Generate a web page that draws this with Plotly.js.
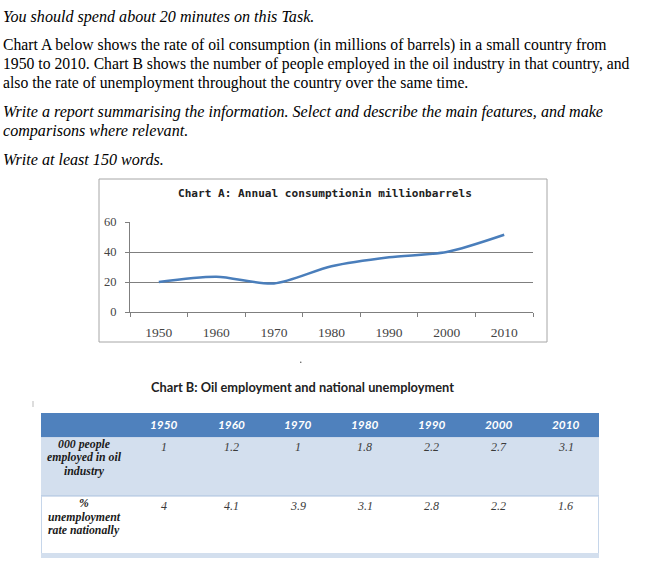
<!DOCTYPE html>
<html>
<head>
<meta charset="utf-8">
<script src="https://cdn.plot.ly/plotly-3.0.1.min.js"></script>
<style>html,body{margin:0;padding:0;background:#fff;}#chart{width:648px;height:574px;}</style>
</head>
<body>
<div id="chart"></div>
<script>
// ---- data ----
const years = ['1950', '1960', '1970', '1980', '1990', '2000', '2010'];
const consumption = [20, 23.5, 19, 30.5, 36.5, 40, 51.5];
const oilEmployed = ['1', '1.2', '1', '1.8', '2.2', '2.7', '3.1'];
const unemploymentRate = ['4', '4.1', '3.9', '3.1', '2.8', '2.2', '1.6'];
const rowLabels = ['000 people<br>employed in oil<br>industry', '%<br>unemployment<br>rate nationally'];
const chartATitle = 'Chart A: Annual consumptionin millionbarrels';
const chartBTitle = 'Chart B: Oil employment and national unemployment';
const taskLines = [
  'You should spend about 20 minutes on this Task.',
  'Chart A below shows the rate of oil consumption (in millions of barrels) in a small country from',
  '1950 to 2010. Chart B shows the number of people employed in the oil industry in that country, and',
  'also the rate of unemployment throughout the country over the same time.',
  'Write a report summarising the information. Select and describe the main features, and make',
  'comparisons where relevant.',
  'Write at least 150 words.'
];
const taskItalic = [true, false, false, false, true, true, true];

// ---- geometry / style ----
const W = 648, H = 574;
const px = x => x / W;
const py = y => 1 - y / H;
const taskLineY = [17, 45, 64, 83, 112, 131, 160];

const headerBlue = '#4f81bd';
const rowBlue = '#d3dfee';
const gridGrey = '#7f7f7f';

// table geometry
const tLeft = 41, tRight = 599, labelW = 90;
const yearW = (tRight - tLeft - labelW) / years.length;
const headTop = 413, headBot = 437;
const rowTops = [437, 496];
const rowBot = 553, stripBot = 558;
const tableRows = [oilEmployed, unemploymentRate];

const lineTrace = {
  type: 'scatter', mode: 'lines',
  x: years, y: consumption,
  xaxis: 'x', yaxis: 'y',
  line: {color: '#4a7ebb', width: 2.5, shape: 'spline', smoothing: 0.8},
  hoverinfo: 'x+y', showlegend: false
};

const annotations = [];
taskLines.forEach((t, i) => annotations.push({
  xref: 'paper', yref: 'paper', x: px(1), y: py(taskLineY[i]),
  xanchor: 'left', yanchor: 'middle', showarrow: false,
  text: taskItalic[i] ? '<i>' + t + '</i>' : t,
  font: {family: 'Liberation Serif, serif', size: taskItalic[i] ? 16.1 : 15.7, color: '#000000'}
}));
annotations.push({
  xref: 'paper', yref: 'paper', x: px(325), y: py(193), xanchor: 'center', yanchor: 'middle',
  showarrow: false, text: '<b>' + chartATitle + '</b>',
  font: {family: 'DejaVu Sans Mono, monospace', size: 11.1, color: '#222222'}
});
annotations.push({
  xref: 'paper', yref: 'paper', x: px(302), y: py(387), xanchor: 'center', yanchor: 'middle',
  showarrow: false, text: '<b>' + chartBTitle + '</b>',
  font: {family: 'Lato, Liberation Sans, sans-serif', size: 12.8, color: '#222222'}
});

const shapes = [
  // chart A frame
  {type: 'rect', xref: 'paper', yref: 'paper', x0: px(99), x1: px(547), y0: py(342), y1: py(179),
   line: {color: '#a6a6a6', width: 1}, fillcolor: 'rgba(0,0,0,0)', layer: 'below'},
  // small dot between charts
  {type: 'circle', xref: 'paper', yref: 'paper', x0: px(300), x1: px(301.5), y0: py(363), y1: py(361.5),
   line: {width: 0}, fillcolor: '#555555', layer: 'above'},
  // tiny mark at the left of the table
  {type: 'line', xref: 'paper', yref: 'paper', x0: px(33), x1: px(33), y0: py(407), y1: py(401),
   line: {color: '#bbbbbb', width: 1}, layer: 'above'},
  // table: header band, rows, strip
  {type: 'rect', xref: 'paper', yref: 'paper', x0: px(tLeft), x1: px(tRight), y0: py(headBot), y1: py(headTop),
   line: {width: 0}, fillcolor: headerBlue, layer: 'below'},
  {type: 'rect', xref: 'paper', yref: 'paper', x0: px(tLeft), x1: px(tRight), y0: py(rowTops[1]), y1: py(rowTops[0]),
   line: {width: 0}, fillcolor: rowBlue, layer: 'below'},
  {type: 'rect', xref: 'paper', yref: 'paper', x0: px(tLeft), x1: px(tRight), y0: py(stripBot), y1: py(rowBot),
   line: {width: 0}, fillcolor: rowBlue, layer: 'below'},
  {type: 'line', xref: 'paper', yref: 'paper', x0: px(tLeft), x1: px(tRight), y0: py(headBot + 0.5), y1: py(headBot + 0.5),
   line: {color: '#c9d7ea', width: 1}, layer: 'below'},
  {type: 'line', xref: 'paper', yref: 'paper', x0: px(tLeft), x1: px(tRight), y0: py(rowTops[1]), y1: py(rowTops[1]),
   line: {color: '#a9c0de', width: 1}, layer: 'below'},
  {type: 'line', xref: 'paper', yref: 'paper', x0: px(tLeft + 0.5), x1: px(tLeft + 0.5), y0: py(rowBot), y1: py(rowTops[1]),
   line: {color: '#c6d6ea', width: 1}, layer: 'below'},
  {type: 'line', xref: 'paper', yref: 'paper', x0: px(tRight - 0.5), x1: px(tRight - 0.5), y0: py(rowBot), y1: py(rowTops[1]),
   line: {color: '#c6d6ea', width: 1}, layer: 'below'}
];

// table header cells
years.forEach((y, i) => annotations.push({
  xref: 'paper', yref: 'paper', x: px(tLeft + labelW + (i + 0.5) * yearW), y: py(424),
  xanchor: 'center', yanchor: 'middle', showarrow: false,
  text: '<b><i>' + y + '</i></b>',
  font: {family: 'Lato, Liberation Sans, sans-serif', size: 11.8, color: '#ffffff'}
}));
// table row label cells
rowLabels.forEach((lab, r) => lab.split('<br>').forEach((line, k) => annotations.push({
  xref: 'paper', yref: 'paper', x: px(tLeft + 43), y: py(rowTops[r] + 7 + k * 13.5),
  xanchor: 'center', yanchor: 'middle', showarrow: false,
  text: '<b><i>' + line + '</i></b>',
  font: {family: 'Liberation Serif, serif', size: 11.8, color: '#1a1a1a'}
})));
// table value cells
tableRows.forEach((vals, r) => vals.forEach((v, i) => annotations.push({
  xref: 'paper', yref: 'paper', x: px(tLeft + labelW + (i + 0.5) * yearW), y: py(rowTops[r] + 10),
  xanchor: 'center', yanchor: 'middle', showarrow: false,
  text: '<i>' + v + '</i>',
  font: {family: 'Liberation Serif, serif', size: 12, color: '#3a3a3a'}
})));

const layout = {
  width: W, height: H, autosize: false,
  margin: {l: 0, r: 0, t: 0, b: 0, pad: 0},
  paper_bgcolor: '#ffffff', plot_bgcolor: 'rgba(0,0,0,0)',
  showlegend: false,
  xaxis: {
    domain: [px(130), px(533)], anchor: 'y', type: 'category',
    range: [-0.5, 6.5], tickson: 'boundaries', ticks: 'outside', ticklen: 4,
    tickcolor: gridGrey, showline: true, linecolor: gridGrey, linewidth: 1,
    showgrid: false, zeroline: false, fixedrange: true, ticklabelstandoff: 8,
    tickfont: {family: 'Liberation Serif, serif', size: 13.5, color: '#444444'}
  },
  yaxis: {
    domain: [py(312), py(222)], anchor: 'x', range: [0, 60], dtick: 20, tick0: 0,
    ticks: 'outside', ticklen: 4, tickcolor: gridGrey,
    showline: true, linecolor: gridGrey, linewidth: 1, ticklabelstandoff: 6,
    showgrid: true, gridcolor: gridGrey, gridwidth: 1, zeroline: false, fixedrange: true,
    tickfont: {family: 'Liberation Serif, serif', size: 12.5, color: '#444444'}
  },
  annotations: annotations,
  shapes: shapes
};

Plotly.newPlot('chart', [lineTrace], layout, {staticPlot: true, displayModeBar: false});
</script>
</body>
</html>
